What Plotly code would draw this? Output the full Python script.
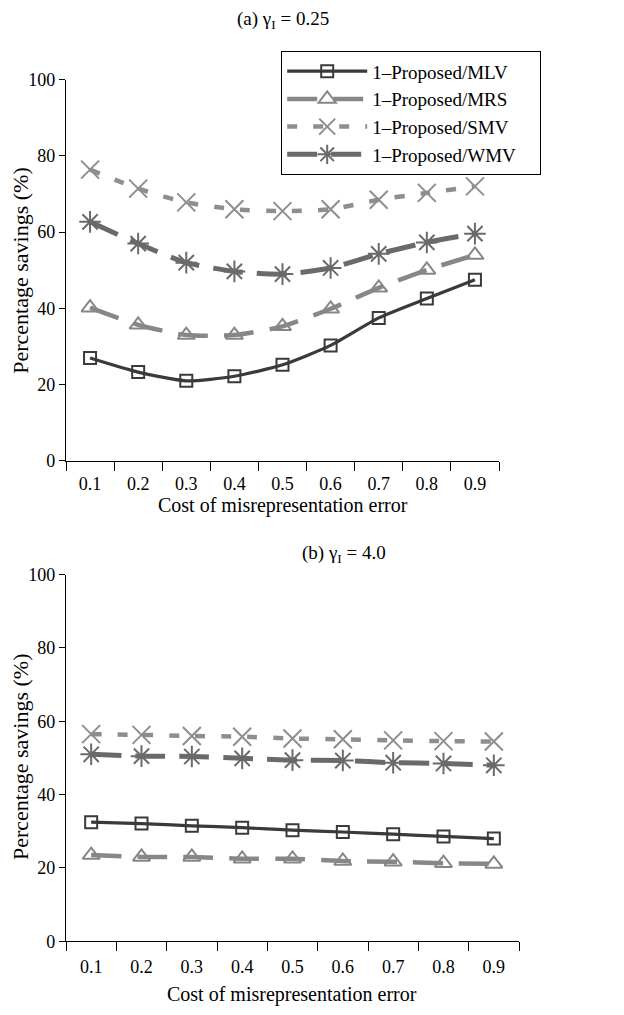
import plotly.graph_objects as go

categories = ["0.1", "0.2", "0.3", "0.4", "0.5", "0.6", "0.7", "0.8", "0.9"]
series_names = ["1\u2013Proposed/MLV", "1\u2013Proposed/MRS", "1\u2013Proposed/SMV", "1\u2013Proposed/WMV"]

# Panel (a) gamma_I = 0.25
a_mlv = [27.0, 23.3, 21.0, 22.2, 25.2, 30.3, 37.5, 42.6, 47.5]
a_mrs = [40.2, 35.7, 33.0, 33.0, 35.3, 39.9, 45.4, 50.1, 54.0]
a_smv = [76.4, 71.4, 67.8, 66.0, 65.5, 66.0, 68.5, 70.3, 72.0]
a_wmv = [62.7, 57.0, 52.0, 49.7, 49.0, 50.6, 54.3, 57.3, 59.6]

# Panel (b) gamma_I = 4.0
b_mlv = [32.5, 32.1, 31.5, 31.0, 30.3, 29.8, 29.2, 28.6, 28.0]
b_mrs = [23.5, 23.0, 23.0, 22.5, 22.5, 21.9, 21.7, 21.3, 21.1]
b_smv = [56.5, 56.3, 56.0, 55.8, 55.3, 55.1, 54.8, 54.6, 54.5]
b_wmv = [51.0, 50.5, 50.4, 49.9, 49.4, 49.3, 48.7, 48.5, 48.0]

y_ticks = [0, 20, 40, 60, 80, 100]

W, H = 624, 1015
FONT = "Liberation Serif, Times New Roman, serif"

styles = [
    dict(color="#3a3a3a", dash="solid", width=3.2, symbol="square-open", msize=12, mline=2),
    dict(color="#878787", dash="30px,16px", width=4.5, symbol="triangle-up-open", msize=15, mline=2),
    dict(color="#8e8e8e", dash="10px,16px", width=4.5, symbol="x-thin-open", msize=18, mline=2),
    dict(color="#6a6a6a", dash="30px,14px", width=5, symbol="asterisk-open", msize=18, mline=2),
]

fig = go.Figure()

def add_panel(vals, xa, ya, show):
    for name, v, s in zip(series_names, vals, styles):
        fig.add_trace(go.Scatter(
            x=categories, y=v, name=name + "\u00a0\u00a0\u00a0\u00a0", mode="lines+markers",
            xaxis=xa, yaxis=ya, showlegend=show,
            line=dict(color=s["color"], dash=s["dash"], width=s["width"], shape="spline", smoothing=0.6),
            marker=dict(symbol=s["symbol"], size=s["msize"], color=s["color"],
                        line=dict(color=s["color"], width=s["mline"])),
        ))

add_panel([a_mlv, a_mrs, a_smv, a_wmv], "x", "y", True)
add_panel([b_mlv, b_mrs, b_smv, b_wmv], "x2", "y2", False)

def px_x(p):
    return p / W

def px_y(p):
    return 1 - p / H

axis_common = dict(showgrid=False, zeroline=False, showline=True, linecolor="black", linewidth=1.3,
                   ticks="outside", tickcolor="black", tickwidth=1.3,
                   tickfont=dict(family=FONT, size=18, color="black"))

fig.update_layout(
    width=W, height=H, margin=dict(l=0, r=0, t=0, b=0),
    plot_bgcolor="white", paper_bgcolor="white",
    font=dict(family=FONT, color="black"),
    xaxis=dict(domain=[px_x(66), px_x(499)], anchor="y", type="category", range=[-0.5, 8.5],
               tickson="boundaries", ticklen=9, ticklabelstandoff=6, **axis_common),
    yaxis=dict(domain=[px_y(460), px_y(71)], anchor="x", range=[0, 100], tickvals=y_ticks,
               ticklen=6, **axis_common),
    xaxis2=dict(domain=[px_x(66), px_x(519)], anchor="y2", type="category", range=[-0.5, 8.5],
                tickson="boundaries", ticklen=9, ticklabelstandoff=9, **axis_common),
    yaxis2=dict(domain=[px_y(950), px_y(576)], anchor="x2", range=[0, 100], tickvals=y_ticks,
                ticklen=6, **axis_common),
    legend=dict(x=px_x(281), y=px_y(42), xanchor="left", yanchor="top",
                bgcolor="white", bordercolor="black", borderwidth=1.2,
                font=dict(family=FONT, size=19, color="black"), itemwidth=80,
                tracegroupgap=0),
    showlegend=True,
)

def label(text, x, y, angle=0, size=19):
    return dict(text=text, x=px_x(x), y=px_y(y), xref="paper", yref="paper",
                xanchor="center", yanchor="middle",
                showarrow=False, textangle=angle, font=dict(family=FONT, size=size, color="black"))

ann = [
    label("(a) \u03b3<sub>I</sub> = 0.25", 283, 10),
    label("(b) \u03b3<sub>I</sub> = 4.0", 344, 555),
    label("Cost of misrepresentation error", 283, 505, size=20),
    label("Cost of misrepresentation error", 292, 1004, size=20),
    label("Percentage savings (%)", 21, 266, angle=-90, size=22),
    label("Percentage savings (%)", 21, 762, angle=-90, size=22),
]
fig.update_layout(annotations=ann)

fig.write_html("out.html", config={"displayModeBar": False},
               post_script="document.body.style.margin='0';document.body.style.overflow='hidden';")
